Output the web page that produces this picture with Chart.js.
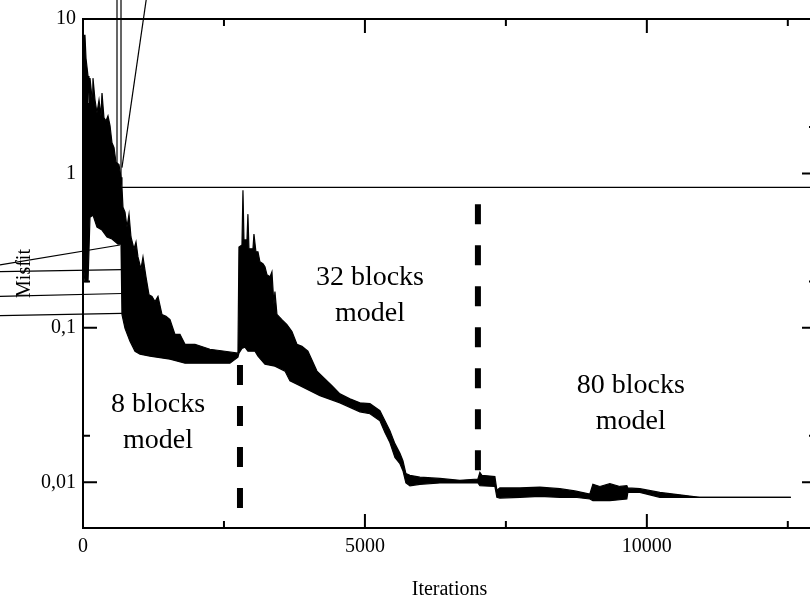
<!DOCTYPE html>
<html>
<head>
<meta charset="utf-8">
<script src="https://cdn.jsdelivr.net/npm/chart.js@4.4.1/dist/chart.umd.min.js"></script>
<style>
html, body { margin: 0; padding: 0; overflow: hidden; background: #fff; }
canvas { display: block; }
</style>
</head>
<body>
<canvas id="misfit" width="830" height="599" style="width:830px;height:599px"></canvas>
<script>
// upper and lower edge of the noisy misfit trace
const upperIter = [0, 35, 53, 89, 106, 124, 160, 177, 213, 248, 284, 319, 337, 372, 408, 443, 479, 514, 550, 585, 638, 674, 691, 709, 745, 780, 816, 851, 904, 940, 975, 1028, 1064, 1117, 1170, 1223, 1277, 1330, 1401, 1472, 1543, 1631, 1720, 1809, 1986, 2252, 2518, 2748, 2766, 2819, 2837, 2855, 2908, 2925, 2943, 3014, 3032, 3067, 3103, 3138, 3191, 3227, 3262, 3316, 3351, 3386, 3404, 3440, 3528, 3617, 3706, 3794, 3883, 3989, 4149, 4291, 4415, 4557, 4734, 4911, 5089, 5266, 5355, 5443, 5532, 5621, 5674, 5727, 5798, 5975, 6330, 6684, 7004, 7039, 7074, 7305, 7340, 7393, 7748, 8103, 8457, 8723, 8989, 9043, 9166, 9344, 9521, 9645, 9663, 9876, 10230, 10585, 10940, 12553];
const upperMisfit = [7.83, 7.83, 5.57, 4.27, 2.86, 4.14, 3.08, 4.14, 2.99, 2.47, 2.99, 2.36, 3.32, 2.29, 2.19, 2.36, 2.04, 1.58, 1.47, 1.18, 1.14, 0.943, 0.813, 0.604, 0.562, 0.450, 0.545, 0.388, 0.325, 0.360, 0.288, 0.241, 0.288, 0.214, 0.164, 0.160, 0.148, 0.160, 0.122, 0.119, 0.113, 0.0908, 0.0908, 0.0783, 0.0783, 0.0727, 0.0706, 0.0686, 0.334, 0.344, 0.777, 0.371, 0.371, 0.545, 0.325, 0.325, 0.405, 0.311, 0.311, 0.268, 0.260, 0.249, 0.221, 0.214, 0.231, 0.142, 0.172, 0.122, 0.113, 0.105, 0.0947, 0.0783, 0.0759, 0.0706, 0.0525, 0.0467, 0.0422, 0.0374, 0.0347, 0.0327, 0.0323, 0.0291, 0.0250, 0.0216, 0.0178, 0.0154, 0.0138, 0.0114, 0.0111, 0.0108, 0.0106, 0.0103, 0.0105, 0.0116, 0.0111, 0.0109, 0.0089, 0.0092, 0.0092, 0.0093, 0.0091, 0.0088, 0.0084, 0.0097, 0.0094, 0.0098, 0.0094, 0.0095, 0.0092, 0.0091, 0.0086, 0.0083, 0.0080, 0.0080];
const lowerIter = [0, 35, 89, 124, 177, 248, 337, 426, 514, 621, 674, 691, 745, 833, 922, 1011, 1188, 1543, 1809, 2606, 2748, 2766, 2819, 2872, 2925, 3050, 3103, 3227, 3404, 3582, 3670, 3848, 4202, 4557, 4911, 5089, 5266, 5355, 5443, 5532, 5621, 5674, 5727, 5798, 5975, 6330, 7004, 7039, 7305, 7340, 7393, 7748, 8103, 8457, 8723, 8989, 9043, 9344, 9645, 9663, 9876, 10230, 10585, 10940, 12553];
const lowerMisfit = [0.268, 0.199, 0.199, 0.521, 0.537, 0.450, 0.430, 0.388, 0.376, 0.349, 0.349, 0.122, 0.0992, 0.0818, 0.0706, 0.0676, 0.0656, 0.0627, 0.0591, 0.0591, 0.0646, 0.0686, 0.0737, 0.0749, 0.0706, 0.0706, 0.0656, 0.0582, 0.0565, 0.0525, 0.0454, 0.0422, 0.0364, 0.0327, 0.0286, 0.0278, 0.0250, 0.0210, 0.0181, 0.0145, 0.0132, 0.0119, 0.0099, 0.0095, 0.0097, 0.0099, 0.0099, 0.0095, 0.0094, 0.0080, 0.0079, 0.0080, 0.0081, 0.0080, 0.0080, 0.0078, 0.0076, 0.0076, 0.0078, 0.0086, 0.0086, 0.0080, 0.0080, 0.0080, 0.0080];

// stray strokes of the original plot that run out of the frame
const strayIter = [[-1472, 656], [-1472, 691], [-1472, 691], [-1472, 691], [603, 603], [674, 674, 14000], [691, 1188]];
const strayMisfit = [[0.256, 0.344], [0.231, 0.238], [0.160, 0.167], [0.120, 0.124], [1.0, 30], [30, 0.813, 0.813], [1.09, 19.7]];

// dashed separators between the model stages
const splitIter = [2784, 7004];
const splitTop = [0.0575, 0.632];
const splitBottom = [0.00681, 0.0119];

const xMajor = [0, 5000, 10000];
const xMinor = [2500, 7500, 12500];
const yMajor = [0.01, 0.1, 1, 10];
const yMajorLabels = ['0,01', '0,1', '1', '10'];
const yMinor = [0.02, 0.2, 2];
const blockLabels = ['8 blocks', '32 blocks', '80 blocks'];

const SERIF = '"Liberation Serif", "Times New Roman", serif';
const annot = { iter: [1330, 5089, 9716], misfit: [0.0286, 0.1905, 0.0379] };

const pts = (xs, ys) => xs.map((x, i) => ({ x, y: ys[i] }));

const datasets = [
    { data: pts(upperIter, upperMisfit), borderColor: '#000', borderWidth: 1.2, pointRadius: 0, fill: false },
    { data: pts(lowerIter, lowerMisfit), borderColor: '#000', borderWidth: 1.2, pointRadius: 0, fill: '-1', backgroundColor: '#000' }
];
strayIter.forEach((xs, i) => datasets.push({
    data: pts(xs, strayMisfit[i]), borderColor: '#000', borderWidth: 1.2, pointRadius: 0, fill: false, clip: false
}));
splitIter.forEach((x, i) => datasets.push({
    data: [{ x, y: splitTop[i] }, { x, y: splitBottom[i] }],
    borderColor: '#000', borderWidth: 6, borderDash: [20, 21], borderCapStyle: 'butt', pointRadius: 0, fill: false
}));

const blockText = {
    id: 'blockText',
    afterDatasetsDraw(chart) {
        const { ctx, scales: { x, y } } = chart;
        ctx.save();
        ctx.fillStyle = '#000';
        ctx.font = '28px ' + SERIF;
        ctx.textAlign = 'center';
        ctx.textBaseline = 'alphabetic';
        blockLabels.forEach((t, i) => {
            const px = x.getPixelForValue(annot.iter[i]);
            const py = y.getPixelForValue(annot.misfit[i]);
            ctx.fillText(t, px, py);
            ctx.fillText('model', px, py + 36);
        });
        ctx.restore();
    }
};

const frame = {
    id: 'frame',
    afterDraw(chart) {
        const { ctx, chartArea: a, scales: { x, y } } = chart;
        ctx.save();
        ctx.strokeStyle = '#000';
        ctx.lineWidth = 2;
        ctx.strokeRect(a.left, a.top, a.right - a.left, a.bottom - a.top);
        ctx.beginPath();
        const xt = (vals, len) => vals.forEach(v => {
            const p = x.getPixelForValue(v);
            ctx.moveTo(p, a.bottom); ctx.lineTo(p, a.bottom - len);
            ctx.moveTo(p, a.top); ctx.lineTo(p, a.top + len);
        });
        const yt = (vals, len) => vals.forEach(v => {
            const p = y.getPixelForValue(v);
            ctx.moveTo(a.left, p); ctx.lineTo(a.left + len, p);
            ctx.moveTo(a.right, p); ctx.lineTo(a.right - len, p);
        });
        xt(xMajor, 14); xt(xMinor, 7);
        yt(yMajor, 14); yt(yMinor, 7);
        ctx.stroke();
        ctx.restore();
    }
};

new Chart(document.getElementById('misfit').getContext('2d'), {
    type: 'line',
    data: { datasets },
    options: {
        responsive: false,
        animation: false,
        layout: { padding: { top: 15, right: 14, left: 0, bottom: 0 } },
        plugins: { legend: { display: false }, tooltip: { enabled: false } },
        scales: {
            x: {
                type: 'linear', min: 0, max: 13000,
                grid: { display: false, drawTicks: false },
                border: { display: false },
                afterBuildTicks: s => { s.ticks = xMajor.map(value => ({ value })); },
                ticks: { color: '#000', font: { family: SERIF, size: 20 }, padding: 7, maxRotation: 0, autoSkip: false, callback: v => String(v) },
                title: { display: true, text: 'Iterations', color: '#000', font: { family: SERIF, size: 20 }, padding: { top: 0, bottom: -3 } },
                afterFit: s => { s.height = 71; }
            },
            y: {
                type: 'logarithmic', min: 0.00506, max: 10,
                grid: { display: false, drawTicks: false },
                border: { display: false },
                afterBuildTicks: s => { s.ticks = yMajor.map(value => ({ value })); },
                ticks: { color: '#000', font: { family: SERIF, size: 20 }, padding: 7, autoSkip: false, callback: (v, i) => yMajorLabels[i] },
                title: { display: true, text: 'Misfit', color: '#000', font: { family: SERIF, size: 20 }, padding: { top: 13, bottom: 0 } },
                afterFit: s => { s.width = 83; }
            }
        }
    },
    plugins: [blockText, frame]
});
</script>
</body>
</html>
